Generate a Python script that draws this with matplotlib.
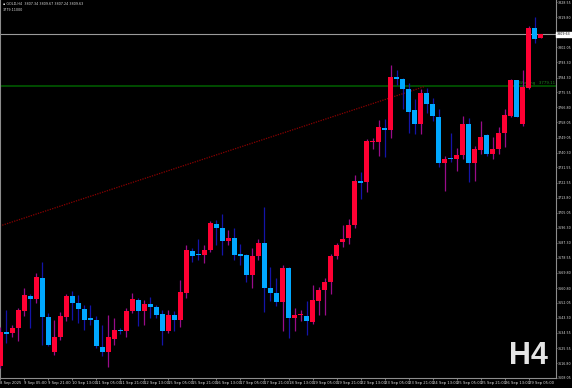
import matplotlib
matplotlib.use("Agg")
import matplotlib.pyplot as plt
import matplotlib.transforms as mtransforms

# GOLD H4 candles
opens = [3615.1, 3635.0, 3634.4, 3637.3, 3647.4, 3656.4, 3654.4, 3666.9, 3643.9, 3623.3,
         3631.9, 3643.9, 3656.1, 3652.3, 3648.4, 3643.1, 3642.2, 3626.2, 3623.1, 3631.1,
         3636.3, 3635.4, 3647.4, 3653.8, 3647.4, 3651.3, 3649.6, 3645.5, 3635.4, 3644.7,
         3642.2, 3657.7, 3682.4, 3681.05, 3680.1, 3683.0, 3698.55, 3696.05, 3688.2, 3690.2,
         3680.5, 3680.1, 3668.4, 3679.5, 3687.3, 3661.0, 3657.7, 3652.5, 3672.7, 3643.1,
         3644.7, 3644.5, 3640.8, 3653.2, 3659.6, 3664.5, 3679.7, 3687.9, 3690.2, 3697.6,
         3723.8, 3722.9, 3746.6, 3746.2, 3754.55, 3753.6, 3784.7, 3783.5, 3777.3, 3765.2,
         3756.9, 3775.0, 3768.55, 3761.4, 3734.0, 3737.05, 3736.5, 3738.8, 3757.3, 3734.0,
         3741.9, 3750.65, 3739.4, 3742.3, 3751.6, 3761.7, 3782.7, 3756.9, 3778.3, 3813.3,
         3807.34]
highs = [3637.9, 3647.8, 3639.05, 3649.0, 3660.6, 3657.1, 3669.4, 3675.8, 3646.05, 3642.2,
         3646.6, 3657.1, 3658.9, 3656.7, 3650.7, 3650.7, 3644.3, 3639.2, 3645.1, 3643.1,
         3637.3, 3649.0, 3657.7, 3654.8, 3653.8, 3655.8, 3650.9, 3648.0, 3648.0, 3647.2,
         3665.5, 3685.9, 3684.0, 3689.8, 3685.9, 3699.9, 3700.5, 3704.4, 3694.6, 3696.05,
         3686.9, 3681.05, 3684.0, 3689.4, 3708.3, 3673.3, 3666.5, 3674.2, 3673.3, 3649.0,
         3648.0, 3652.9, 3662.6, 3661.6, 3666.5, 3680.5, 3687.5, 3697.6, 3701.1, 3727.1,
         3728.7, 3748.1, 3749.1, 3759.4, 3759.8, 3791.9, 3789.0, 3784.1, 3781.2, 3771.9,
         3777.7, 3778.3, 3772.5, 3765.6, 3738.4, 3752.0, 3742.7, 3761.7, 3760.8, 3744.2,
         3758.8, 3751.05, 3749.7, 3755.0, 3766.0, 3783.5, 3783.1, 3789.0, 3814.6, 3820.1,
         3809.67]
lows = [3614.0, 3628.6, 3632.05, 3629.7, 3644.3, 3637.3, 3651.9, 3627.6, 3626.8, 3621.7,
        3630.5, 3641.4, 3642.2, 3640.2, 3636.3, 3639.2, 3625.6, 3621.0, 3614.4, 3627.2,
        3633.8, 3631.9, 3646.05, 3638.3, 3639.2, 3643.1, 3643.1, 3627.6, 3634.4, 3635.4,
        3637.9, 3654.8, 3676.2, 3677.1, 3675.2, 3682.05, 3685.9, 3680.1, 3685.9, 3677.1,
        3674.2, 3664.5, 3660.6, 3677.1, 3647.0, 3652.9, 3650.0, 3635.4, 3631.5, 3635.4,
        3641.2, 3633.4, 3639.6, 3645.1, 3645.1, 3657.1, 3678.1, 3685.0, 3686.9, 3696.2,
        3713.1, 3717.4, 3742.3, 3738.4, 3737.5, 3749.1, 3780.2, 3765.6, 3752.0, 3751.05,
        3751.05, 3763.7, 3758.8, 3731.8, 3718.0, 3734.5, 3729.6, 3736.5, 3722.9, 3723.8,
        3739.4, 3738.4, 3736.5, 3739.4, 3743.3, 3761.0, 3761.0, 3755.7, 3777.3, 3804.5,
        3807.24]
closes = [3635.0, 3633.8, 3637.3, 3647.8, 3656.55, 3654.4, 3667.5, 3643.9, 3627.6, 3632.05,
          3644.1, 3656.4, 3652.3, 3648.6, 3642.0, 3642.2, 3626.6, 3623.3, 3631.9, 3636.3,
          3635.4, 3647.6, 3654.2, 3647.4, 3651.5, 3649.7, 3645.1, 3635.7, 3644.7, 3642.2,
          3658.3, 3683.0, 3679.7, 3680.1, 3683.4, 3698.9, 3696.2, 3688.5, 3690.2, 3680.1,
          3679.7, 3668.4, 3679.7, 3687.5, 3661.0, 3657.9, 3652.5, 3672.7, 3643.1, 3645.1,
          3645.6, 3641.2, 3653.5, 3659.6, 3664.5, 3679.7, 3686.3, 3689.8, 3698.0, 3723.8,
          3722.5, 3747.1, 3747.1, 3755.0, 3753.4, 3784.7, 3783.7, 3777.7, 3764.3, 3756.9,
          3775.0, 3769.0, 3761.7, 3734.0, 3736.5, 3736.5, 3738.8, 3757.3, 3734.0, 3742.3,
          3749.7, 3739.4, 3742.3, 3751.6, 3762.1, 3783.1, 3761.4, 3778.6, 3813.6, 3807.05,
          3809.63]

date_labels = ["8 Sep 2025", "9 Sep 05:00", "9 Sep 21:00", "10 Sep 13:00", "11 Sep 05:00",
               "11 Sep 21:00", "12 Sep 13:00", "15 Sep 05:00", "15 Sep 21:00", "16 Sep 13:00",
               "17 Sep 05:00", "17 Sep 21:00", "18 Sep 13:00", "19 Sep 05:00", "19 Sep 21:00",
               "22 Sep 13:00", "23 Sep 05:00", "23 Sep 21:00", "24 Sep 13:00", "25 Sep 05:00",
               "25 Sep 21:00", "26 Sep 13:00", "29 Sep 05:00"]
# 3811.05 sits under the bid tag, so it is not listed
price_ticks = [3608.05, 3616.80, 3625.55, 3634.55, 3643.30, 3652.05, 3660.80, 3669.80,
               3678.55, 3687.30, 3696.30, 3705.05, 3713.80, 3722.55, 3731.55, 3740.30,
               3749.05, 3758.05, 3766.80, 3775.55, 3784.30, 3793.30, 3802.05,
               3819.80, 3828.55]

bid = 3809.63
warning_level = 3779.11
trend_x = [-0.1, 70.75]
trend_y = [3697.2, 3779.11]

fig = plt.figure(figsize=(5.72, 3.88), dpi=100, facecolor="black")
ax = fig.add_axes([0, 10 / 388, 556 / 572, 378 / 388], facecolor="black")

n = len(opens)
xs = list(range(n))
up = [c >= o for o, c in zip(opens, closes)]
body_col = ["#ff0033" if u else "#00a8ff" for u in up]
wick_col = ["#9a0c8a" if u else "#1414a8" for u in up]

ax.vlines(xs, lows, highs, colors=wick_col, lw=0.9, zorder=3)
bottoms = [min(o, c) for o, c in zip(opens, closes)]
heights = [max(abs(c - o), 0.7) for o, c in zip(opens, closes)]
ax.bar(xs, heights, bottom=bottoms, width=0.7, color=body_col, lw=0, zorder=4)

# lines
ax.axhline(bid, color="#9a9a9a", lw=0.8, zorder=2)
ax.axhline(warning_level, color="#005200", lw=1.3, zorder=2)
ax.plot(trend_x, trend_y, color="#8b0000", lw=0.9, ls=(0, (1, 1)), zorder=2)
ax.text(92.4, warning_level + 0.6, "Warning   3779.11", color="#1f8a1f", fontsize=2.8,
        ha="right", va="bottom", zorder=1)

ax.set_xlim(-0.08, 92.58)
ax.set_ylim(3608.0, 3829.8)

# axes styling
for s in ["top", "left"]:
    ax.spines[s].set_visible(False)
ax.spines["right"].set_color("#8c8c8c")
ax.spines["bottom"].set_color("#8c8c8c")
ax.spines["right"].set_linewidth(0.8)
ax.spines["bottom"].set_linewidth(0.8)
ax.axvline(-0.08, color="#8c8c8c", lw=1.5)

ax.yaxis.tick_right()
ax.set_yticks(price_ticks)
ax.set_yticklabels(["%.2f" % v for v in price_ticks])
ax.tick_params(axis="y", colors="#8c8c8c", labelcolor="#e0e0e0", labelsize=2.3,
               length=1.0, width=0.6, pad=0.5)
ax.set_xticks(list(range(0, 4 * len(date_labels), 4)))
ax.set_xticklabels(date_labels, ha="left")
ax.tick_params(axis="x", colors="#8c8c8c", labelcolor="#e0e0e0", labelsize=2.7,
               length=1.5, width=0.6, pad=1)

# bid price tag on the axis
tr = mtransforms.blended_transform_factory(ax.transAxes, ax.transData)
ax.text(1.002, bid, "3809.63", transform=tr, fontsize=2.3, color="black",
        va="center", ha="left", zorder=10,
        bbox=dict(boxstyle="square,pad=0.2", fc="white", ec="white"))

# header text
fig.text(3 / 572, 1 - 4 / 388, "\u25aa GOLD,H4  3807.34 3809.67 3807.24 3809.63",
         color="#d8d8d8", fontsize=2.4, va="center", ha="left")
fig.text(3 / 572, 1 - 10 / 388, "3779.11000", color="#d8d8d8", fontsize=2.4,
         va="center", ha="left")

ax.text(0.986, 0.058, "H4", transform=ax.transAxes, color="#e4e4e4", fontsize=22,
        fontweight="bold", family="Liberation Sans", ha="right", va="center", zorder=11)

fig.savefig("out.png", dpi=100, facecolor="black")
